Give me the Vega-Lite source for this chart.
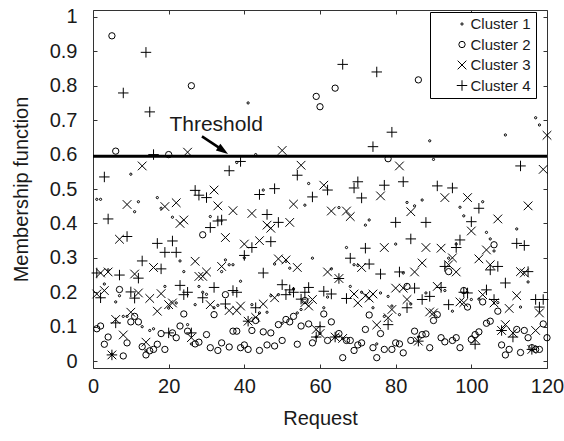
{
"$schema":"https://vega.github.io/schema/vega-lite/v6.json",
"width":454,"height":358,
"autosize":{"type":"none"},
"padding":{"left":93,"top":10,"right":17,"bottom":73},
"config":{
"font":"Liberation Sans",
"view":{"stroke":null},
"axis":{"domainColor":"#333","tickColor":"#333","labelColor":"#1a1a1a","titleColor":"#1a1a1a","labelFont":"Liberation Sans","titleFont":"Liberation Sans","labelFontSize":20,"titleFontSize":20,"titleFontWeight":"normal","grid":false,"tickSize":-4,"domainWidth":1,"tickWidth":1,"labelFlush":false,"labelOverlap":false},
"legend":{"orient":"none","legendX":337,"legendY":2,"padding":4.5,"strokeColor":"black","fillColor":"white","labelFontSize":15,"labelFont":"Liberation Sans","labelColor":"#1a1a1a","symbolOffset":20,"labelOffset":1,"rowPadding":4.5,"symbolStrokeColor":"black","symbolStrokeWidth":1,"symbolFillColor":"transparent"}
},
"datasets":{
"pts":[
{"r":1,"c":1,"v":0.47},{"r":1,"c":2,"v":0.094},{"r":1,"c":3,"v":0.195},{"r":1,"c":4,"v":0.256},
{"r":2,"c":1,"v":0.47},{"r":2,"c":2,"v":0.102},{"r":2,"c":3,"v":0.256},{"r":2,"c":4,"v":0.184},
{"r":3,"c":1,"v":0.224},{"r":3,"c":2,"v":0.049},{"r":3,"c":3,"v":0.205},{"r":3,"c":4,"v":0.535},
{"r":4,"c":1,"v":0.265},{"r":4,"c":2,"v":0.07},{"r":4,"c":3,"v":0.259},{"r":4,"c":4,"v":0.413},
{"r":5,"c":1,"v":0.02},{"r":5,"c":2,"v":0.945},{"r":5,"c":3,"v":0.018},{"r":5,"c":4,"v":0.018},
{"r":6,"c":1,"v":0.172},{"r":6,"c":2,"v":0.61},{"r":6,"c":3,"v":0.121},{"r":6,"c":4,"v":0.111},
{"r":7,"c":1,"v":0.19},{"r":7,"c":2,"v":0.208},{"r":7,"c":3,"v":0.354},{"r":7,"c":4,"v":0.25},
{"r":8,"c":1,"v":0.13},{"r":8,"c":2,"v":0.015},{"r":8,"c":3,"v":0.076},{"r":8,"c":4,"v":0.779},
{"r":9,"c":1,"v":0.13},{"r":9,"c":2,"v":0.053},{"r":9,"c":3,"v":0.455},{"r":9,"c":4,"v":0.362},
{"r":10,"c":1,"v":0.543},{"r":10,"c":2,"v":0.114},{"r":10,"c":3,"v":0.142},{"r":10,"c":4,"v":0.201},
{"r":11,"c":1,"v":0.434},{"r":11,"c":2,"v":0.13},{"r":11,"c":3,"v":0.253},{"r":11,"c":4,"v":0.183},
{"r":12,"c":1,"v":0.463},{"r":12,"c":2,"v":0.114},{"r":12,"c":3,"v":0.198},{"r":12,"c":4,"v":0.241},
{"r":13,"c":1,"v":0.1},{"r":13,"c":2,"v":0.042},{"r":13,"c":3,"v":0.567},{"r":13,"c":4,"v":0.291},
{"r":14,"c":1,"v":0.03},{"r":14,"c":2,"v":0.018},{"r":14,"c":3,"v":0.055},{"r":14,"c":4,"v":0.897},
{"r":15,"c":1,"v":0.089},{"r":15,"c":2,"v":0.03},{"r":15,"c":3,"v":0.182},{"r":15,"c":4,"v":0.724},
{"r":16,"c":1,"v":0.094},{"r":16,"c":2,"v":0.034},{"r":16,"c":3,"v":0.272},{"r":16,"c":4,"v":0.6},
{"r":17,"c":1,"v":0.475},{"r":17,"c":2,"v":0.049},{"r":17,"c":3,"v":0.145},{"r":17,"c":4,"v":0.342},
{"r":18,"c":1,"v":0.444},{"r":18,"c":2,"v":0.08},{"r":18,"c":3,"v":0.196},{"r":18,"c":4,"v":0.268},
{"r":19,"c":1,"v":0.217},{"r":19,"c":2,"v":0.034},{"r":19,"c":3,"v":0.449},{"r":19,"c":4,"v":0.316},
{"r":20,"c":1,"v":0.154},{"r":20,"c":2,"v":0.6},{"r":20,"c":3,"v":0.164},{"r":20,"c":4,"v":0.082},
{"r":21,"c":1,"v":0.418},{"r":21,"c":2,"v":0.082},{"r":21,"c":3,"v":0.169},{"r":21,"c":4,"v":0.349},
{"r":22,"c":1,"v":0.169},{"r":22,"c":2,"v":0.068},{"r":22,"c":3,"v":0.46},{"r":22,"c":4,"v":0.316},
{"r":23,"c":1,"v":0.291},{"r":23,"c":2,"v":0.102},{"r":23,"c":3,"v":0.4},{"r":23,"c":4,"v":0.22},
{"r":24,"c":1,"v":0.26},{"r":24,"c":2,"v":0.137},{"r":24,"c":3,"v":0.41},{"r":24,"c":4,"v":0.193},
{"r":25,"c":1,"v":0.106},{"r":25,"c":2,"v":0.087},{"r":25,"c":3,"v":0.607},{"r":25,"c":4,"v":0.2},
{"r":26,"c":1,"v":0.05},{"r":26,"c":2,"v":0.8},{"r":26,"c":3,"v":0.068},{"r":26,"c":4,"v":0.082},
{"r":27,"c":1,"v":0.164},{"r":27,"c":2,"v":0.05},{"r":27,"c":3,"v":0.29},{"r":27,"c":4,"v":0.496},
{"r":28,"c":1,"v":0.217},{"r":28,"c":2,"v":0.055},{"r":28,"c":3,"v":0.246},{"r":28,"c":4,"v":0.482},
{"r":29,"c":1,"v":0.2},{"r":29,"c":2,"v":0.367},{"r":29,"c":3,"v":0.246},{"r":29,"c":4,"v":0.184},
{"r":30,"c":1,"v":0.194},{"r":30,"c":2,"v":0.077},{"r":30,"c":3,"v":0.259},{"r":30,"c":4,"v":0.475},
{"r":31,"c":1,"v":0.42},{"r":31,"c":2,"v":0.039},{"r":31,"c":3,"v":0.164},{"r":31,"c":4,"v":0.388},
{"r":32,"c":1,"v":0.155},{"r":32,"c":2,"v":0.135},{"r":32,"c":3,"v":0.497},{"r":32,"c":4,"v":0.214},
{"r":33,"c":1,"v":0.162},{"r":33,"c":2,"v":0.031},{"r":33,"c":3,"v":0.451},{"r":33,"c":4,"v":0.407},
{"r":34,"c":1,"v":0.26},{"r":34,"c":2,"v":0.053},{"r":34,"c":3,"v":0.275},{"r":34,"c":4,"v":0.41},
{"r":35,"c":1,"v":0.294},{"r":35,"c":2,"v":0.193},{"r":35,"c":3,"v":0.359},{"r":35,"c":4,"v":0.166},
{"r":36,"c":1,"v":0.28},{"r":36,"c":2,"v":0.041},{"r":36,"c":3,"v":0.147},{"r":36,"c":4,"v":0.553},
{"r":37,"c":1,"v":0.28},{"r":37,"c":2,"v":0.087},{"r":37,"c":3,"v":0.437},{"r":37,"c":4,"v":0.205},
{"r":38,"c":1,"v":0.577},{"r":38,"c":2,"v":0.087},{"r":38,"c":3,"v":0.147},{"r":38,"c":4,"v":0.2},
{"r":39,"c":1,"v":0.232},{"r":39,"c":2,"v":0.039},{"r":39,"c":3,"v":0.16},{"r":39,"c":4,"v":0.58},
{"r":40,"c":1,"v":0.3},{"r":40,"c":2,"v":0.047},{"r":40,"c":3,"v":0.34},{"r":40,"c":4,"v":0.307},
{"r":41,"c":1,"v":0.75},{"r":41,"c":2,"v":0.034},{"r":41,"c":3,"v":0.116},{"r":41,"c":4,"v":0.116},
{"r":42,"c":1,"v":0.164},{"r":42,"c":2,"v":0.089},{"r":42,"c":3,"v":0.429},{"r":42,"c":4,"v":0.33},
{"r":43,"c":1,"v":0.6},{"r":43,"c":2,"v":0.118},{"r":43,"c":3,"v":0.127},{"r":43,"c":4,"v":0.155},
{"r":44,"c":1,"v":0.14},{"r":44,"c":2,"v":0.031},{"r":44,"c":3,"v":0.35},{"r":44,"c":4,"v":0.484},
{"r":45,"c":1,"v":0.497},{"r":45,"c":2,"v":0.085},{"r":45,"c":3,"v":0.166},{"r":45,"c":4,"v":0.256},
{"r":46,"c":1,"v":0.142},{"r":46,"c":2,"v":0.047},{"r":46,"c":3,"v":0.395},{"r":46,"c":4,"v":0.426},
{"r":47,"c":1,"v":0.19},{"r":47,"c":2,"v":0.082},{"r":47,"c":3,"v":0.386},{"r":47,"c":4,"v":0.347},
{"r":48,"c":1,"v":0.282},{"r":48,"c":2,"v":0.044},{"r":48,"c":3,"v":0.184},{"r":48,"c":4,"v":0.501},
{"r":49,"c":1,"v":0.193},{"r":49,"c":2,"v":0.106},{"r":49,"c":3,"v":0.297},{"r":49,"c":4,"v":0.403},
{"r":50,"c":1,"v":0.11},{"r":50,"c":2,"v":0.06},{"r":50,"c":3,"v":0.612},{"r":50,"c":4,"v":0.222},
{"r":51,"c":1,"v":0.29},{"r":51,"c":2,"v":0.121},{"r":51,"c":3,"v":0.294},{"r":51,"c":4,"v":0.193},
{"r":52,"c":1,"v":0.27},{"r":52,"c":2,"v":0.114},{"r":52,"c":3,"v":0.403},{"r":52,"c":4,"v":0.207},
{"r":53,"c":1,"v":0.21},{"r":53,"c":2,"v":0.13},{"r":53,"c":3,"v":0.456},{"r":53,"c":4,"v":0.2},
{"r":54,"c":1,"v":0.14},{"r":54,"c":2,"v":0.049},{"r":54,"c":3,"v":0.272},{"r":54,"c":4,"v":0.54},
{"r":55,"c":1,"v":0.15},{"r":55,"c":2,"v":0.102},{"r":55,"c":3,"v":0.569},{"r":55,"c":4,"v":0.18},
{"r":56,"c":1,"v":0.453},{"r":56,"c":2,"v":0.176},{"r":56,"c":3,"v":0.17},{"r":56,"c":4,"v":0.2},
{"r":57,"c":1,"v":0.516},{"r":57,"c":2,"v":0.108},{"r":57,"c":3,"v":0.16},{"r":57,"c":4,"v":0.214},
{"r":58,"c":1,"v":0.299},{"r":58,"c":2,"v":0.053},{"r":58,"c":3,"v":0.179},{"r":58,"c":4,"v":0.477},
{"r":59,"c":1,"v":0.07},{"r":59,"c":2,"v":0.769},{"r":59,"c":3,"v":0.092},{"r":59,"c":4,"v":0.07},
{"r":60,"c":1,"v":0.08},{"r":60,"c":2,"v":0.739},{"r":60,"c":3,"v":0.08},{"r":60,"c":4,"v":0.1},
{"r":61,"c":1,"v":0.155},{"r":61,"c":2,"v":0.137},{"r":61,"c":3,"v":0.511},{"r":61,"c":4,"v":0.203},
{"r":62,"c":1,"v":0.186},{"r":62,"c":2,"v":0.06},{"r":62,"c":3,"v":0.259},{"r":62,"c":4,"v":0.497},
{"r":63,"c":1,"v":0.268},{"r":63,"c":2,"v":0.114},{"r":63,"c":3,"v":0.436},{"r":63,"c":4,"v":0.195},
{"r":64,"c":1,"v":0.07},{"r":64,"c":2,"v":0.793},{"r":64,"c":3,"v":0.07},{"r":64,"c":4,"v":0.07},
{"r":65,"c":1,"v":0.446},{"r":65,"c":2,"v":0.08},{"r":65,"c":3,"v":0.24},{"r":65,"c":4,"v":0.24},
{"r":66,"c":1,"v":0.066},{"r":66,"c":2,"v":0.01},{"r":66,"c":3,"v":0.066},{"r":66,"c":4,"v":0.862},
{"r":67,"c":1,"v":0.33},{"r":67,"c":2,"v":0.06},{"r":67,"c":3,"v":0.436},{"r":67,"c":4,"v":0.182},
{"r":68,"c":1,"v":0.217},{"r":68,"c":2,"v":0.06},{"r":68,"c":3,"v":0.42},{"r":68,"c":4,"v":0.299},
{"r":69,"c":1,"v":0.28},{"r":69,"c":2,"v":0.031},{"r":69,"c":3,"v":0.195},{"r":69,"c":4,"v":0.503},
{"r":70,"c":1,"v":0.278},{"r":70,"c":2,"v":0.047},{"r":70,"c":3,"v":0.169},{"r":70,"c":4,"v":0.521},
{"r":71,"c":1,"v":0.2},{"r":71,"c":2,"v":0.053},{"r":71,"c":3,"v":0.272},{"r":71,"c":4,"v":0.474},
{"r":72,"c":1,"v":0.395},{"r":72,"c":2,"v":0.092},{"r":72,"c":3,"v":0.19},{"r":72,"c":4,"v":0.328},
{"r":73,"c":1,"v":0.41},{"r":73,"c":2,"v":0.134},{"r":73,"c":3,"v":0.183},{"r":73,"c":4,"v":0.282},
{"r":74,"c":1,"v":0.155},{"r":74,"c":2,"v":0.039},{"r":74,"c":3,"v":0.195},{"r":74,"c":4,"v":0.623},
{"r":75,"c":1,"v":0.05},{"r":75,"c":2,"v":0.01},{"r":75,"c":3,"v":0.105},{"r":75,"c":4,"v":0.84},
{"r":76,"c":1,"v":0.198},{"r":76,"c":2,"v":0.08},{"r":76,"c":3,"v":0.48},{"r":76,"c":4,"v":0.253},
{"r":77,"c":1,"v":0.13},{"r":77,"c":2,"v":0.034},{"r":77,"c":3,"v":0.33},{"r":77,"c":4,"v":0.511},
{"r":78,"c":1,"v":0.188},{"r":78,"c":2,"v":0.588},{"r":78,"c":3,"v":0.126},{"r":78,"c":4,"v":0.106},
{"r":79,"c":1,"v":0.16},{"r":79,"c":2,"v":0.034},{"r":79,"c":3,"v":0.15},{"r":79,"c":4,"v":0.665},
{"r":80,"c":1,"v":0.34},{"r":80,"c":2,"v":0.053},{"r":80,"c":3,"v":0.212},{"r":80,"c":4,"v":0.403},
{"r":81,"c":1,"v":0.135},{"r":81,"c":2,"v":0.05},{"r":81,"c":3,"v":0.567},{"r":81,"c":4,"v":0.259},
{"r":82,"c":1,"v":0.256},{"r":82,"c":2,"v":0.024},{"r":82,"c":3,"v":0.212},{"r":82,"c":4,"v":0.521},
{"r":83,"c":1,"v":0.461},{"r":83,"c":2,"v":0.217},{"r":83,"c":3,"v":0.179},{"r":83,"c":4,"v":0.155},
{"r":84,"c":1,"v":0.166},{"r":84,"c":2,"v":0.06},{"r":84,"c":3,"v":0.434},{"r":84,"c":4,"v":0.355},
{"r":85,"c":1,"v":0.451},{"r":85,"c":2,"v":0.087},{"r":85,"c":3,"v":0.259},{"r":85,"c":4,"v":0.212},
{"r":86,"c":1,"v":0.07},{"r":86,"c":2,"v":0.817},{"r":86,"c":3,"v":0.058},{"r":86,"c":4,"v":0.058},
{"r":87,"c":1,"v":0.468},{"r":87,"c":2,"v":0.077},{"r":87,"c":3,"v":0.285},{"r":87,"c":4,"v":0.179},
{"r":88,"c":1,"v":0.198},{"r":88,"c":2,"v":0.079},{"r":88,"c":3,"v":0.33},{"r":88,"c":4,"v":0.403},
{"r":89,"c":1,"v":0.64},{"r":89,"c":2,"v":0.039},{"r":89,"c":3,"v":0.143},{"r":89,"c":4,"v":0.188},
{"r":90,"c":1,"v":0.586},{"r":90,"c":2,"v":0.118},{"r":90,"c":3,"v":0.14},
{"r":91,"c":2,"v":0.135},{"r":91,"c":3,"v":0.217},{"r":91,"c":4,"v":0.509},
{"r":92,"c":2,"v":0.068},{"r":92,"c":3,"v":0.328},{"r":92,"c":4,"v":0.214},
{"r":93,"c":1,"v":0.205},{"r":93,"c":2,"v":0.056},{"r":93,"c":3,"v":0.475},{"r":93,"c":4,"v":0.275},
{"r":94,"c":1,"v":0.299},{"r":94,"c":2,"v":0.26},{"r":94,"c":3,"v":0.28},{"r":94,"c":4,"v":0.164},
{"r":95,"c":1,"v":0.145},{"r":95,"c":2,"v":0.06},{"r":95,"c":3,"v":0.3},{"r":95,"c":4,"v":0.503},
{"r":96,"c":1,"v":0.34},{"r":96,"c":2,"v":0.068},{"r":96,"c":3,"v":0.259},{"r":96,"c":4,"v":0.33},
{"r":97,"c":1,"v":0.447},{"r":97,"c":2,"v":0.039},{"r":97,"c":3,"v":0.172},{"r":97,"c":4,"v":0.352},
{"r":98,"c":1,"v":0.422},{"r":98,"c":2,"v":0.205},{"r":98,"c":3,"v":0.17},{"r":98,"c":4,"v":0.2},
{"r":99,"c":2,"v":0.157},{"r":99,"c":3,"v":0.475},{"r":99,"c":4,"v":0.198},
{"r":100,"c":1,"v":0.179},{"r":100,"c":2,"v":0.063},{"r":100,"c":3,"v":0.378},{"r":100,"c":4,"v":0.405},
{"r":101,"c":2,"v":0.077},{"r":101,"c":3,"v":0.063},{"r":101,"c":4,"v":0.049},
{"r":102,"c":1,"v":0.18},{"r":102,"c":2,"v":0.085},{"r":102,"c":3,"v":0.297},{"r":102,"c":4,"v":0.444},
{"r":103,"c":1,"v":0.463},{"r":103,"c":2,"v":0.172},{"r":103,"c":3,"v":0.193},
{"r":104,"c":1,"v":0.374},{"r":104,"c":2,"v":0.11},{"r":104,"c":3,"v":0.323},{"r":104,"c":4,"v":0.207},
{"r":105,"c":1,"v":0.355},{"r":105,"c":2,"v":0.116},{"r":105,"c":3,"v":0.28},{"r":105,"c":4,"v":0.265},
{"r":106,"c":1,"v":0.32},{"r":106,"c":2,"v":0.338},{"r":106,"c":3,"v":0.169},{"r":106,"c":4,"v":0.179},
{"r":107,"c":1,"v":0.17},{"r":107,"c":2,"v":0.145},{"r":107,"c":3,"v":0.413},{"r":107,"c":4,"v":0.275},
{"r":108,"c":2,"v":0.047},{"r":108,"c":3,"v":0.089},{"r":108,"c":4,"v":0.089},
{"r":109,"c":1,"v":0.657},{"r":109,"c":2,"v":0.018},{"r":109,"c":3,"v":0.106},{"r":109,"c":4,"v":0.227},
{"r":110,"c":2,"v":0.034},{"r":110,"c":3,"v":0.153},
{"r":111,"c":3,"v":0.082},{"r":111,"c":4,"v":0.07},
{"r":112,"c":1,"v":0.384},{"r":112,"c":2,"v":0.092},{"r":112,"c":3,"v":0.19},{"r":112,"c":4,"v":0.342},
{"r":113,"c":1,"v":0.157},{"r":113,"c":2,"v":0.025},{"r":113,"c":3,"v":0.26},{"r":113,"c":4,"v":0.567},
{"r":114,"c":2,"v":0.089},{"r":114,"c":3,"v":0.256},{"r":114,"c":4,"v":0.336},
{"r":115,"c":1,"v":0.23},{"r":115,"c":2,"v":0.068},{"r":115,"c":3,"v":0.451},{"r":115,"c":4,"v":0.26},
{"r":116,"c":2,"v":0.039},{"r":116,"c":3,"v":0.034},{"r":116,"c":4,"v":0.034},
{"r":117,"c":1,"v":0.707},{"r":117,"c":2,"v":0.034},{"r":117,"c":3,"v":0.089},{"r":117,"c":4,"v":0.179},
{"r":118,"c":1,"v":0.686},{"r":118,"c":2,"v":0.034},{"r":118,"c":3,"v":0.14},{"r":118,"c":4,"v":0.157},
{"r":119,"c":2,"v":0.108},{"r":119,"c":3,"v":0.557},{"r":119,"c":4,"v":0.179},
{"r":120,"c":2,"v":0.068},{"r":120,"c":3,"v":0.656}
],
"thr":[{"y":0.595}],
"arrow":[{"x":28.8,"y":0.653,"x2":33.2,"y2":0.621,"tx":35.7,"ty":0.602}],
"label":[{"x":20.2,"y":0.669,"t":"Threshold"}]
},
"layer":[
{"data":{"name":"pts"},
"mark":{"type":"point","filled":false,"strokeWidth":1,"color":"black","opacity":1},
"encoding":{
"x":{"field":"r","type":"quantitative","scale":{"domain":[0,120],"nice":false,"zero":false},"axis":{"orient":"bottom","title":"Request","values":[0,20,40,60,80,100,120],"labelPadding":12,"titlePadding":12}},
"y":{"field":"v","type":"quantitative","scale":{"domain":[-0.02,1.02],"nice":false,"zero":false},"axis":{"orient":"left","title":"Membership function","values":[0,0.1,0.2,0.3,0.4,0.5,0.6,0.7,0.8,0.9,1],"format":"~g","labelPadding":20,"titlePadding":18}},
"shape":{"field":"c","type":"ordinal","scale":{"domain":[1,2,3,4],"range":["circle","circle","M-1,-1L1,1M-1,1L1,-1","M-1,0L1,0M0,-1L0,1"]},"legend":{"title":null,"labelExpr":"'Cluster ' + datum.label + '\u00a0\u00a0\u00a0'"}},
"size":{"field":"c","type":"ordinal","scale":{"domain":[1,2,3,4],"range":[5,110,40,75]},"legend":{"title":null,"labelExpr":"'Cluster ' + datum.label + '\u00a0\u00a0\u00a0'"}}
}},
{"data":{"name":"thr"},
"mark":{"type":"rule","strokeWidth":3,"color":"black"},
"encoding":{"y":{"field":"y","type":"quantitative","scale":{"domain":[-0.02,1.02],"nice":false,"zero":false},"axis":null}}},
{"data":{"name":"arrow"},
"mark":{"type":"rule","strokeWidth":2.5,"color":"black"},
"encoding":{
"x":{"field":"x","type":"quantitative","scale":{"domain":[0,120],"nice":false,"zero":false},"axis":{"orient":"top","labels":false,"title":null,"values":[0,20,40,60,80,100,120]}},
"y":{"field":"y","type":"quantitative","scale":{"domain":[-0.02,1.02],"nice":false,"zero":false},"axis":{"orient":"right","labels":false,"title":null,"values":[0,0.1,0.2,0.3,0.4,0.5,0.6,0.7,0.8,0.9,1]}},
"x2":{"field":"x2"},"y2":{"field":"y2"}}},
{"data":{"name":"arrow"},
"mark":{"type":"point","shape":"M0,0L-1.2,-0.4L-1.2,0.4Z","size":400,"angle":34,"filled":true,"color":"black","opacity":1},
"encoding":{"x":{"field":"tx","type":"quantitative","scale":{"domain":[0,120],"nice":false,"zero":false},"axis":null},"y":{"field":"ty","type":"quantitative","scale":{"domain":[-0.02,1.02],"nice":false,"zero":false},"axis":null}}},
{"data":{"name":"label"},
"mark":{"type":"text","align":"left","baseline":"alphabetic","fontSize":21,"font":"Liberation Sans","color":"#1a1a1a"},
"encoding":{"x":{"field":"x","type":"quantitative","scale":{"domain":[0,120],"nice":false,"zero":false},"axis":null},"y":{"field":"y","type":"quantitative","scale":{"domain":[-0.02,1.02],"nice":false,"zero":false},"axis":null},"text":{"field":"t"}}}
],
"resolve":{"axis":{"x":"independent","y":"independent"}}
}
